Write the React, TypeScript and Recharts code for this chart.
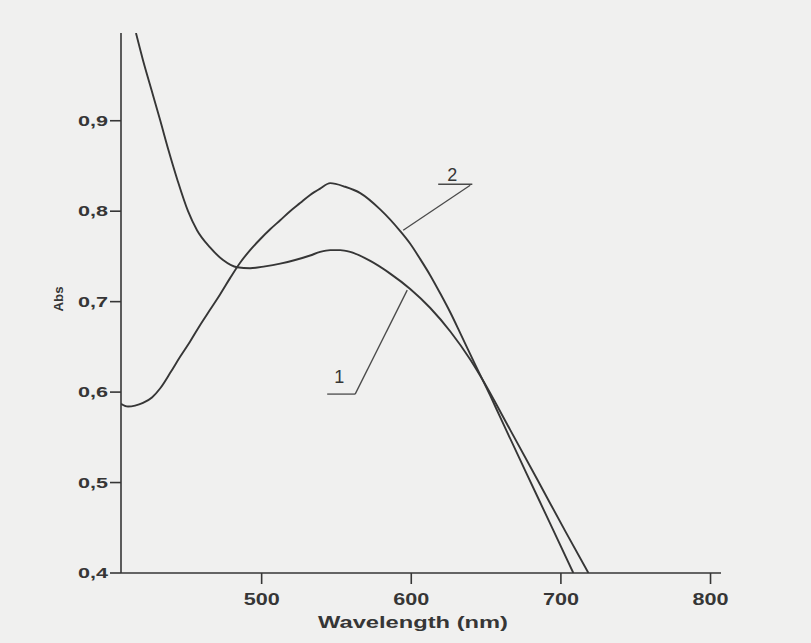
import { LineChart, Line, XAxis, YAxis, ReferenceLine, ReferenceDot } from 'recharts';

// curve 1 (high absorbance at short wavelength, shoulder near 550)
const WL_1 = [416.0, 420.7, 426.4, 432.1, 437.8, 443.8, 450.8, 456.8, 465.5, 474.2, 483.6, 492.3, 502.3, 512.4, 522.4, 532.4, 539.1, 545.8, 552.5, 559.2, 572.6, 585.9, 599.3, 612.7, 626.1, 639.4, 646.1, 666.2, 686.3, 703.0, 718.4];
const ABS_1 = [0.997, 0.967, 0.934, 0.901, 0.867, 0.834, 0.800, 0.779, 0.760, 0.746, 0.738, 0.737, 0.739, 0.742, 0.746, 0.751, 0.755, 0.757, 0.757, 0.755, 0.745, 0.731, 0.714, 0.693, 0.667, 0.636, 0.618, 0.558, 0.497, 0.446, 0.400];

// curve 2 (peak near 546 nm)
const WL_2 = [406.0, 410.7, 415.4, 420.7, 426.7, 432.1, 438.8, 445.5, 452.2, 458.8, 465.5, 472.2, 478.9, 485.6, 492.3, 499.0, 505.7, 512.4, 519.0, 525.7, 532.4, 539.1, 545.8, 555.8, 565.9, 579.2, 592.6, 599.3, 606.0, 612.7, 619.4, 626.1, 632.8, 642.8, 652.8, 659.5, 676.2, 693.0, 708.3];
const ABS_2 = [0.587, 0.584, 0.585, 0.588, 0.594, 0.604, 0.621, 0.639, 0.656, 0.674, 0.691, 0.708, 0.726, 0.743, 0.757, 0.769, 0.780, 0.790, 0.800, 0.809, 0.818, 0.825, 0.831, 0.827, 0.820, 0.802, 0.778, 0.764, 0.747, 0.729, 0.709, 0.688, 0.665, 0.630, 0.596, 0.572, 0.513, 0.454, 0.400];

const X_TICKS = [500, 600, 700, 800];
const Y_TICKS = [0.4, 0.5, 0.6, 0.7, 0.8, 0.9];

const FONT = '"Liberation Sans", Arial, sans-serif';
const INK = '#363636';

const curve1 = WL_1.map((wl, i) => ({ wl, abs: ABS_1[i] }));
const curve2 = WL_2.map((wl, i) => ({ wl, abs: ABS_2[i] }));

function XTick({ x, y, payload }: any) {
  return (
    <text x={x} y={y + 21} textAnchor="middle" fontFamily={FONT} fontWeight={700} fontSize={16} fill={INK}
      textLength={36} lengthAdjust="spacingAndGlyphs">
      {payload.value}
    </text>
  );
}

function YTick({ x, y, payload }: any) {
  return (
    <text x={x - 2} y={y + 5} textAnchor="end" fontFamily={FONT} fontWeight={700} fontSize={14} fill={INK}
      textLength={30} lengthAdjust="spacingAndGlyphs">
      {Number(payload.value).toFixed(1).replace('.', ',')}
    </text>
  );
}

function XTitle({ viewBox }: any) {
  return (
    <text x={viewBox.x + viewBox.width / 2 - 8} y={viewBox.y + 55} textAnchor="middle" fontFamily={FONT}
      fontWeight={700} fontSize={16} fill={INK} textLength={190} lengthAdjust="spacingAndGlyphs">
      Wavelength (nm)
    </text>
  );
}

function YTitle({ viewBox }: any) {
  const cx = viewBox.x + 63;
  const cy = viewBox.y + viewBox.height / 2 - 4;
  return (
    <text x={cx} y={cy} transform={`rotate(-90 ${cx} ${cy})`} textAnchor="middle" fontFamily={FONT}
      fontWeight={700} fontSize={13} fill={INK} textLength={25} lengthAdjust="spacingAndGlyphs">
      Abs
    </text>
  );
}

const noteLine = { stroke: '#4a4a4a', strokeWidth: 1.3, ifOverflow: 'visible' as const };

export default function App() {
  return (
    <div style={{ position: 'fixed', left: 0, top: 0, width: 811, height: 643, background: '#f0f0ef' }}>
      <LineChart width={811} height={643} data={curve2} margin={{ top: 33, right: 90, bottom: 0, left: 0 }}>
        <XAxis
          dataKey="wl"
          type="number"
          domain={[406, 807]}
          ticks={X_TICKS}
          allowDataOverflow
          height={70}
          tickSize={11}
          tickMargin={0}
          stroke={INK}
          strokeWidth={1.6}
          tick={<XTick />}
          label={XTitle}
        />
        <YAxis
          type="number"
          domain={[0.4, 0.997]}
          ticks={Y_TICKS}
          allowDataOverflow
          width={121}
          tickSize={11}
          tickMargin={0}
          stroke={INK}
          strokeWidth={1.6}
          tick={<YTick />}
          label={YTitle}
        />
        <Line data={curve1} dataKey="abs" type="monotone" dot={false} stroke={INK} strokeWidth={1.9} isAnimationActive={false} />
        <Line data={curve2} dataKey="abs" type="monotone" dot={false} stroke={INK} strokeWidth={1.9} isAnimationActive={false} />

        <ReferenceLine segment={[{ x: 618, y: 0.8298 }, { x: 640.8, y: 0.8298 }]} {...noteLine} />
        <ReferenceLine segment={[{ x: 639.4, y: 0.8287 }, { x: 594.6, y: 0.779 }]} {...noteLine} />
        <ReferenceLine segment={[{ x: 543.8, y: 0.5978 }, { x: 562.5, y: 0.5978 }]} {...noteLine} />
        <ReferenceLine segment={[{ x: 562.5, y: 0.5978 }, { x: 597.3, y: 0.7127 }]} {...noteLine} />
        <ReferenceDot x={627.4} y={0.8409} r={0} fill="none" stroke="none" ifOverflow="visible"
          label={{ value: '2', position: 'center', fontSize: 18, fill: INK, fontFamily: FONT }} />
        <ReferenceDot x={551.8} y={0.6166} r={0} fill="none" stroke="none" ifOverflow="visible"
          label={{ value: '1', position: 'center', fontSize: 18, fill: INK, fontFamily: FONT }} />
      </LineChart>
    </div>
  );
}
